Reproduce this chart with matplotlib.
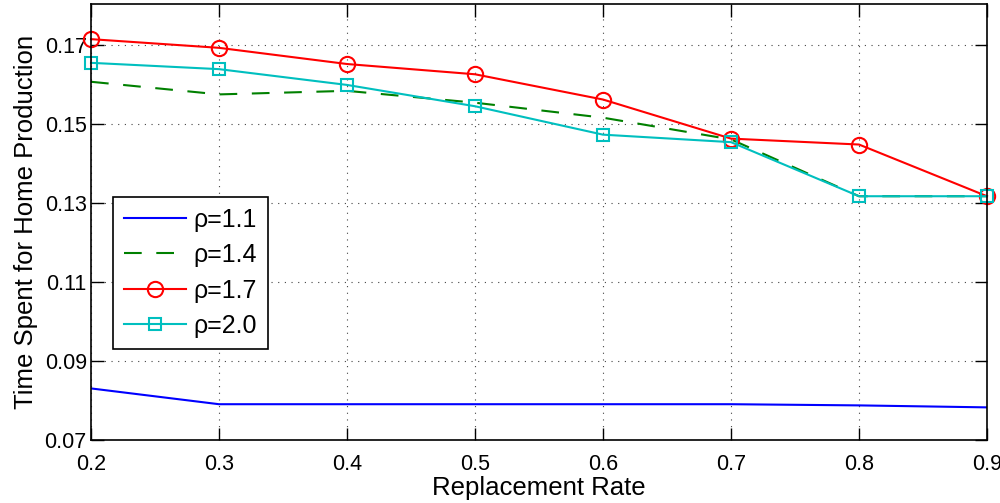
import matplotlib
matplotlib.use("Agg")
import matplotlib.pyplot as plt

plt.rcParams['font.family'] = ['Liberation Sans', 'DejaVu Sans']

replacement_rate = [0.2, 0.3, 0.4, 0.5, 0.6, 0.7, 0.8, 0.9]
rho_labels = ["ρ=1.1", "ρ=1.4", "ρ=1.7", "ρ=2.0"]

rho_11 = [0.0831, 0.0791, 0.0791, 0.0791, 0.0791, 0.0791, 0.0788, 0.0783]
rho_14 = [0.1608, 0.1576, 0.1585, 0.1555, 0.1517, 0.1462, 0.1318, 0.1318]
rho_17 = [0.1716, 0.1694, 0.1653, 0.1627, 0.1563, 0.1464, 0.1449, 0.1318]
rho_20 = [0.1656, 0.1640, 0.1600, 0.1546, 0.1474, 0.1455, 0.1318, 0.1318]

yticks = [0.07, 0.09, 0.11, 0.13, 0.15, 0.17]

fig = plt.figure(figsize=(10, 5.03), dpi=100)
ax = fig.add_axes([0.091, 0.125, 0.896, 0.867])

ax.plot(replacement_rate, rho_11, color='#0000ff', lw=1.5, label=rho_labels[0])
ax.plot(replacement_rate, rho_14, color='#008000', lw=1.5, ls=(0, (8.5, 7)), label=rho_labels[1])
ax.plot(replacement_rate, rho_17, color='#ff0000', lw=1.5, marker='o', ms=11,
        mfc='none', mew=1.5, clip_on=False, label=rho_labels[2])
ax.plot(replacement_rate, rho_20, color='#00bfbf', lw=1.5, marker='s', ms=9,
        mfc='none', mew=1.5, clip_on=False, label=rho_labels[3])

ax.set_xlim(0.2, 0.9)
ax.set_ylim(0.07, 0.1805)
ax.set_xticks(replacement_rate)
ax.set_xticklabels([f"{v:.1f}" for v in replacement_rate])
ax.set_yticks(yticks)
ax.set_yticklabels([f"{v:.2f}" for v in yticks])
ax.tick_params(direction='in', labelsize=15.5, length=9, width=1, top=True, right=True)
ax.tick_params(axis='x', pad=10)
ax.tick_params(axis='y', pad=3)
ax.grid(True, ls=(0, (1, 5)), color='#444444', lw=0.8)
for s in ax.spines.values():
    s.set_linewidth(1.2)

ax.set_xlabel("Replacement Rate", fontsize=18.5, labelpad=1)
ax.set_ylabel("Time Spent for Home Production", fontsize=18.5, labelpad=5)

leg = ax.legend(loc='upper left', bbox_to_anchor=(0.0246, 0.557), borderaxespad=0,
                fontsize=18, fancybox=False, framealpha=1, edgecolor='black',
                handlelength=2.5, handletextpad=0.3, borderpad=0.42, labelspacing=0.46)
leg.get_frame().set_linewidth(1.2)

fig.savefig("out.png", dpi=100)
